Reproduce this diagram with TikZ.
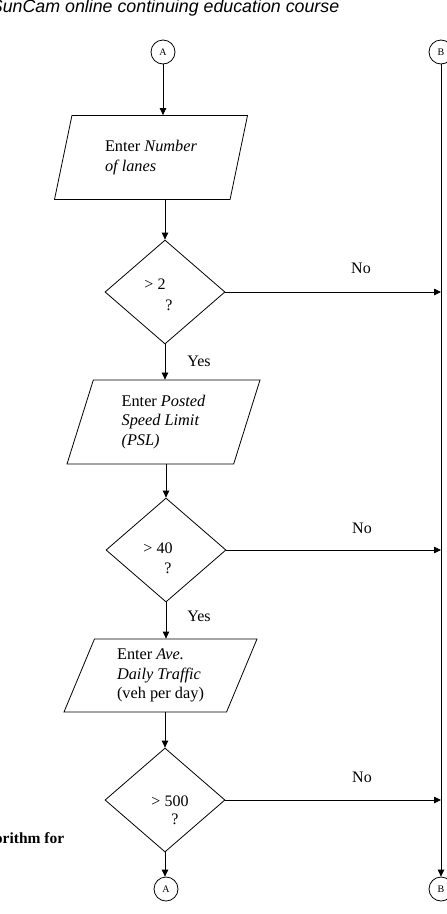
\documentclass[tikz,border=0pt]{standalone}
\usepackage{fontspec}
\setmainfont{Liberation Serif}
\newfontfamily\headfont{Liberation Sans}
\usetikzlibrary{positioning, shapes.geometric, arrows.meta}

\begin{document}
\begin{tikzpicture}[x=1pt, y=-1pt, line width=0.8pt,
      conn/.style={circle, draw, minimum size=24pt, inner sep=0pt,
        font=\fontsize{10}{11}\selectfont},
      io/.style={trapezium, draw, trapezium left angle=65.5,
        trapezium right angle=114.5, trapezium stretches body,
        minimum width=193pt, minimum height=84pt, inner sep=2pt,
        align=left, font=\fontsize{16.3}{19.5}\selectfont},
      decision/.style={diamond, draw, minimum width=120pt,
        minimum height=104pt, inner sep=0pt},
      lbl/.style={font=\fontsize{16}{18}\selectfont},
      arrow/.style={-{Triangle[length=7pt, width=6.5pt]}}
    ]
    \useasboundingbox (0,0) rectangle (447,914);
    \node[anchor=base east, font=\headfont\itshape\fontsize{17.8}{20}\selectfont]
      (title) at (343,12) {SunCam online continuing education course};
    \node[anchor=base east, font=\bfseries\fontsize{15.5}{17}\selectfont]
      (caption) at (68,843) {orithm for};

    % connectors
    \node[conn] (a1) at (163,52) {A};
    \node[conn] (b1) at (441,52) {B};
    \node[conn] (a2) at (166,889) {A};
    \node[conn] (b2) at (441,889) {B};

    % inputs and tests
    \node[io] (p1) at (151,157.5) {Enter \textit{Number}\\\textit{of lanes}};
    \node[decision] (d1) at (165,292) {};
    \node[io] (p2) at (163.5,422) {Enter \textit{Posted}\\\textit{Speed Limit}\\\textit{(PSL)}};
    \node[decision] (d2) at (166,550) {};
    \node[io, trapezium left angle=62, trapezium right angle=118,
      minimum height=73pt] (p3) at (160.5,675.5)
      {Enter \textit{Ave.}\\\textit{Daily Traffic}\\(veh per day)};
    \node[decision] (d3) at (165,800) {};

    \node[lbl] (q1) at (155,284) {> 2};
    \node[lbl] (r1) at (169,305) {?};
    \node[lbl] (q2) at (158,548) {> 40};
    \node[lbl] (r2) at (168,568) {?};
    \node[lbl] (q3) at (170,801) {> 500};
    \node[lbl] (r3) at (175,819) {?};

    % main flow
    \draw[arrow] (a1) -- (a1 |- p1.north);
    \draw[arrow] (d1.north |- p1.south) -- (d1.north);
    \draw[arrow] (d1.south) -- (d1.south |- p2.north);
    \draw[arrow] (d2.north |- p2.south) -- (d2.north);
    \draw[arrow] (d2.south) -- (d2.south |- p3.north);
    \draw[arrow] (d3.north |- p3.south) -- (d3.north);
    \draw[arrow] (d3.south) -- (d3.south |- a2.north);
    \draw[arrow] (b1) -- (b2);

    % no branches
    \foreach \d in {d1, d2, d3}
      \draw[arrow] (\d.east) -- (\d.east -| b1);
    \node[lbl] (no1) at (361,268) {No};
    \node[lbl] (no2) at (362,528) {No};
    \node[lbl] (no3) at (362,777) {No};
    \node[lbl] (yes1) at (199,361) {Yes};
    \node[lbl] (yes2) at (199,616) {Yes};
  \end{tikzpicture}
\end{document}
